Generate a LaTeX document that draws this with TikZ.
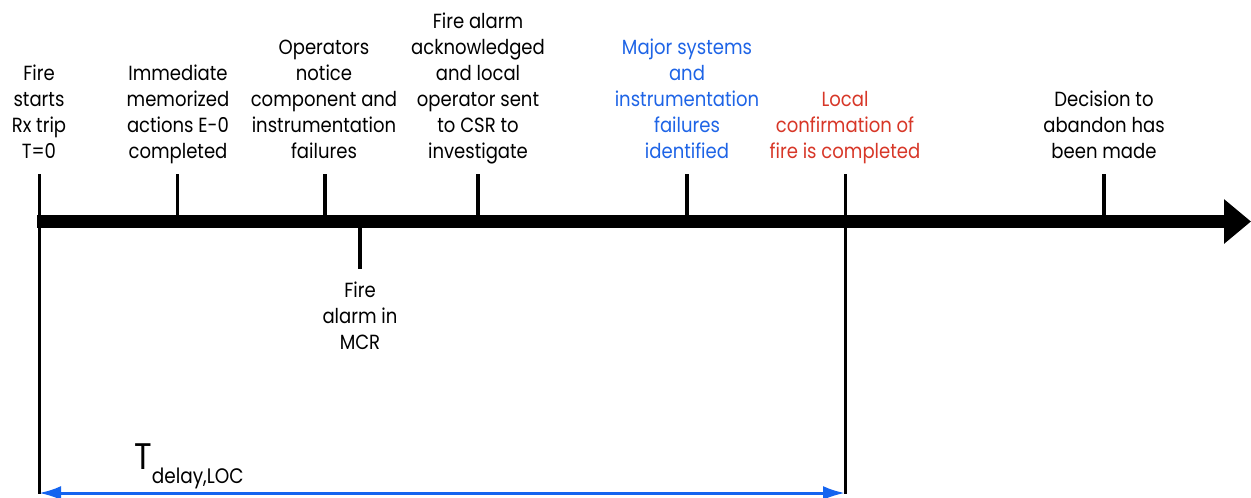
\documentclass[tikz,border=0pt]{standalone}
\usepackage{fontspec}
\setmainfont{Poppins}[FakeStretch=0.88]
\usetikzlibrary{arrows.meta}
\definecolor{evblue}{RGB}{30,100,230}
\definecolor{evred}{RGB}{215,55,40}
\definecolor{spanblue}{RGB}{20,100,240}
\begin{document}
\begin{tikzpicture}[x=1pt,y=-1pt,
  evtext/.style={align=center,inner sep=0pt,text depth=6pt,
    font=\fontsize{20.5}{26}\selectfont},
  above/.style={evtext,anchor=south},
  below/.style={evtext,anchor=north},
  tick/.style={line width=3.5pt},
  axis/.style={line width=13.5pt,-{Triangle[length=27pt,width=43pt]}},
  span/.style={spanblue,line width=3pt,{Latex[length=22pt,width=14pt]}-{Latex[length=22pt,width=14pt]}}]
\useasboundingbox (0,0) rectangle (1251,498);

% timeline axis
\coordinate (a0) at (37,221.5);
\coordinate (a1) at (1251,221.5);
\draw[axis] (a0) -- (a1);

% event labels above the axis
\node[above] (e0) at (39,165) {Fire\\starts\\Rx trip\\T=0};
\node[above] (e1) at (178,165) {Immediate\\memorized\\actions E-0\\completed};
\node[above] (e2) at (324,165) {Operators\\notice\\component and\\instrumentation\\failures};
\node[above] (e3) at (478,165) {Fire alarm\\acknowledged\\and local\\operator sent\\to CSR to\\investigate};
\node[above,evblue] (e4) at (687,165) {Major systems\\and\\instrumentation\\failures\\identified};
\node[above,evred] (e5) at (845,165) {Local\\confirmation of\\fire is completed};
\node[above] (e6) at (1104,165) {Decision to\\abandon has\\been made};

% event label below the axis
\node[below] (b1) at (360,282) {Fire\\alarm in\\MCR};

% tick marks
\coordinate (t1) at (177.5,174);
\coordinate (t2) at (325,174);
\coordinate (t3) at (478,174);
\coordinate (t4) at (687,174);
\coordinate (t6) at (1104,174);
\foreach \t in {t1,t2,t3,t4,t6}
  \draw[tick] (\t) -- (\t |- a0);
\coordinate (d1) at (360,269);
\draw[tick] (d1 |- a0) -- (d1);

% long markers bounding the delay interval
\coordinate (s0) at (39,174);
\coordinate (s1) at (845,174);
\coordinate (s0b) at (39,494);
\coordinate (s1b) at (845,494);
\draw[tick,line width=3pt] (s0) -- (s0b);
\draw[tick,line width=3pt] (s1) -- (s1b);

% delay interval
\coordinate (p0) at (39,493);
\coordinate (p1) at (845,493);
\draw[span] (p0) -- (p1);
\node[anchor=base west,inner sep=0pt] (td) at (134,469)
  {\fontsize{37}{37}\selectfont T\raisebox{-14pt}{\fontsize{21}{21}\selectfont delay,LOC}};
\end{tikzpicture}
\end{document}
